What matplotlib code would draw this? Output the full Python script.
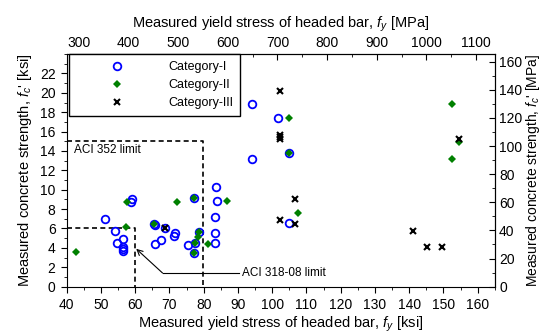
import matplotlib
matplotlib.use("Agg")
import matplotlib.pyplot as plt
from matplotlib.ticker import MultipleLocator

plt.rcParams['font.family'] = ['Liberation Sans', 'DejaVu Sans']
plt.rcParams['mathtext.fontset'] = 'custom'
plt.rcParams['mathtext.rm'] = 'Liberation Sans'
plt.rcParams['mathtext.it'] = 'Liberation Sans:italic'

# Category-I (ksi)
cat1_fy = [51.2, 54.1, 54.8, 56.5, 56.5, 56.3, 56.5, 59.1, 58.9, 65.5, 65.7, 68.8,
           67.4, 65.7, 71.7, 71.2, 75.4, 77.2, 78.5, 77.4, 77.2, 83.7, 83.9, 83.4,
           83.2, 83.2, 94.0, 101.7, 105.0, 94.0, 105.0]
cat1_fc = [7.0, 5.7, 4.45, 4.9, 4.1, 3.85, 3.65, 9.0, 8.75, 6.5, 6.4, 6.1,
           4.8, 4.35, 5.5, 5.25, 4.3, 9.15, 5.6, 4.5, 3.5, 10.3, 8.85, 7.2,
           5.5, 4.5, 18.8, 17.4, 13.8, 13.15, 6.6]

# Category-II
cat2_fy = [42.7, 57.6, 57.2, 65.6, 72.2, 77.2, 78.5, 78.3, 77.4, 77.2, 81.4, 86.8,
           104.8, 105.0, 107.6, 152.6, 154.5, 152.6]
cat2_fc = [3.6, 8.75, 6.15, 6.45, 8.75, 9.15, 5.6, 5.1, 4.5, 3.5, 4.4, 8.85,
           17.4, 13.8, 7.55, 18.8, 14.9, 13.15]

# Category-III
cat3_fy = [68.8, 102.4, 102.4, 102.4, 102.4, 106.7, 102.4, 106.7, 154.5, 141.1, 145.3, 149.5]
cat3_fc = [6.1, 20.15, 15.7, 15.45, 15.25, 9.0, 6.9, 6.45, 15.2, 5.7, 4.1, 4.1]

# code limits
aci352_fy, aci352_fc = 79.8, 15.0
aci318_fy, aci318_fc = 60.0, 6.0

KSI2MPA = 6.895


def ksi2mpa(x):
    return x * KSI2MPA


def mpa2ksi(x):
    return x / KSI2MPA


fig = plt.figure(figsize=(5.42, 3.36), dpi=100)
ax = fig.add_axes([0.123, 0.147, 0.79, 0.692])

ax.plot(cat1_fy, cat1_fc, 'o', mfc='none', mec='#0000ff', ms=5.5, mew=1.3,
        label='Category-I', zorder=3)
ax.plot(cat2_fy, cat2_fc, 'D', color='#008000', ms=4, mew=0,
        label='Category-II', zorder=4)
ax.plot(cat3_fy, cat3_fc, 'x', color='black', ms=5, mew=1.5,
        label='Category-III', zorder=5)

# limits
ax.plot([40, aci352_fy, aci352_fy], [aci352_fc, aci352_fc, 0], color='black',
        lw=1.2, ls=(0, (3, 2)), zorder=2)
ax.plot([40, aci318_fy, aci318_fy], [aci318_fc, aci318_fc, 0], color='black',
        lw=1.2, ls=(0, (3, 2)), zorder=2)
ax.text(42.0, 14.1, 'ACI 352 limit', fontsize=8.5, va='center', ha='left')

ax.plot([68, 90.3], [1.4, 1.4], color='black', lw=0.8)
ax.annotate('', xy=(60.3, 3.9), xytext=(68, 1.4),
            arrowprops=dict(arrowstyle='->', lw=0.8, color='black',
                            shrinkA=0, shrinkB=0))
ax.text(91.3, 1.4, 'ACI 318-08 limit', fontsize=8.5, va='center', ha='left')

ax.set_xlim(40, 165)
ax.set_ylim(0, 24)
ax.set_xticks(range(40, 161, 10))
ax.xaxis.set_minor_locator(MultipleLocator(5))
ax.set_yticks(range(0, 23, 2))
ax.yaxis.set_minor_locator(MultipleLocator(1))
ax.tick_params(which='both', direction='out', labelsize=10, top=False, right=False)
ax.tick_params(which='major', length=4.5)
ax.tick_params(which='minor', length=2.5)

ax.set_xlabel(r'Measured yield stress of headed bar, $f_y$ [ksi]', fontsize=10.5, labelpad=2)
ax.set_ylabel(r"Measured concrete strength, $f_c$' [ksi]", fontsize=10.5, labelpad=4)

top = ax.secondary_xaxis('top', functions=(ksi2mpa, mpa2ksi))
top.set_xticks(range(300, 1101, 100))
top.xaxis.set_minor_locator(MultipleLocator(50))
top.tick_params(which='both', direction='in', labelsize=10, pad=3)
top.tick_params(which='major', length=4.5)
top.tick_params(which='minor', length=2.5)
top.set_xlabel(r'Measured yield stress of headed bar, $f_y$ [MPa]', fontsize=10.5, labelpad=6)

right = ax.secondary_yaxis('right', functions=(ksi2mpa, mpa2ksi))
right.set_yticks(range(0, 161, 20))
right.yaxis.set_minor_locator(MultipleLocator(10))
right.tick_params(which='both', direction='in', labelsize=10, pad=3)
right.tick_params(which='major', length=4.5)
right.tick_params(which='minor', length=2.5)
right.set_ylabel(r"Measured concrete strength, $f_c$' [MPa]", fontsize=10, labelpad=1)

leg = ax.legend(loc='upper left', bbox_to_anchor=(0.006, 1.0), borderaxespad=0,
                fontsize=9, frameon=True, fancybox=False, edgecolor='black',
                framealpha=1, handlelength=6.5, handletextpad=0.9,
                borderpad=0.55, labelspacing=0.5)
leg.get_frame().set_linewidth(1.0)

fig.savefig('out.png', dpi=100)
